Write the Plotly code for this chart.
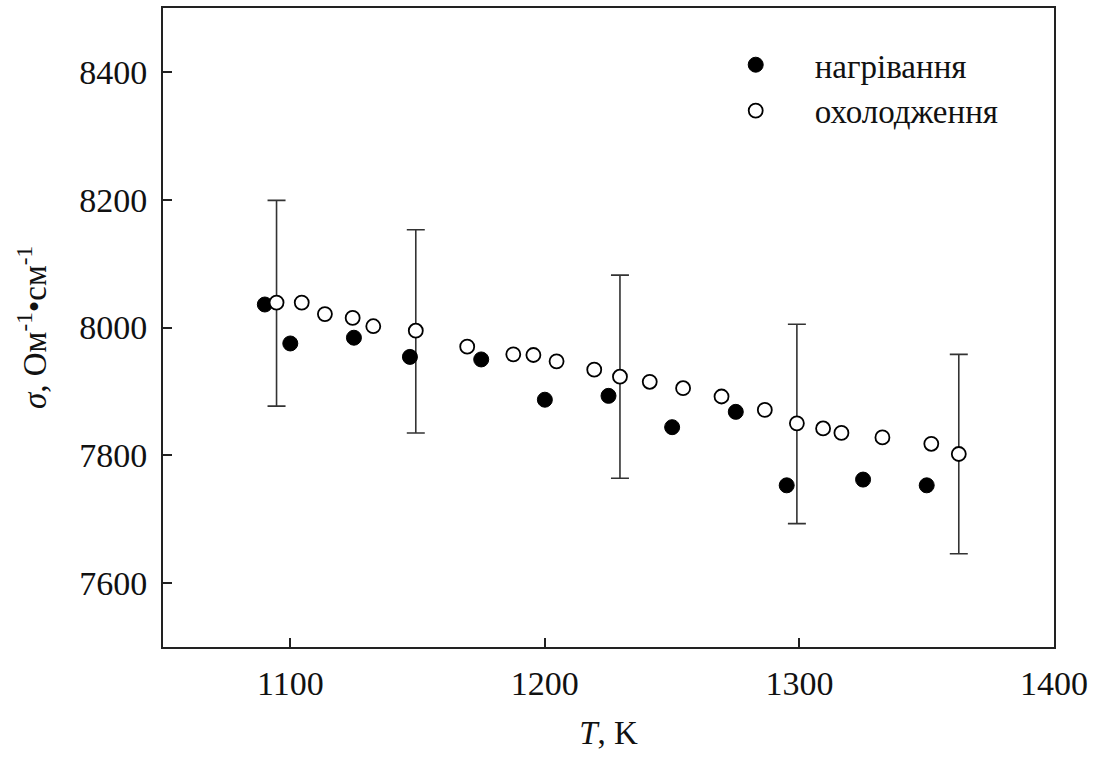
import plotly.graph_objects as go

# heating (filled circles)
heat_T = [1090, 1100, 1125, 1147, 1175, 1200, 1225, 1250, 1275, 1295, 1325, 1350]
heat_s = [8036, 7975, 7984, 7954, 7950, 7887, 7893, 7844, 7868, 7753, 7762, 7753]

# cooling (open circles)
cool_T = [1094.6, 1104.5, 1113.6, 1124.5, 1132.6, 1149.3, 1169.5, 1187.6, 1195.5, 1204.6,
          1219.4, 1229.5, 1241.2, 1254.3, 1269.4, 1286.4, 1299.0, 1309.3, 1316.5, 1332.6,
          1351.8, 1362.6]
cool_s = [8039, 8039, 8021, 8015, 8002, 7995, 7970, 7958, 7957, 7947,
          7934, 7923, 7915, 7905, 7892, 7871, 7850, 7842, 7835, 7828,
          7818, 7802]

# error bars (on selected cooling points)
err_T = [1094.6, 1149.3, 1229.5, 1299.0, 1362.6]
err_s = [8039, 7995, 7923, 7850, 7802]
err_plus = [160, 158, 159, 155, 156]
err_minus = [162, 160, 159, 157, 156]

x_ticks = [1100, 1200, 1300, 1400]
y_ticks = [7600, 7800, 8000, 8200, 8400]

FONT = "Liberation Serif"
AX = "#222222"

fig = go.Figure()

fig.add_trace(go.Scatter(
    x=err_T, y=err_s, mode="markers", showlegend=False, hoverinfo="skip",
    marker=dict(size=1, color="rgba(0,0,0,0)"),
    error_y=dict(type="data", symmetric=False, array=err_plus, arrayminus=err_minus,
                 color="#333333", thickness=1.6, width=9),
))

fig.add_trace(go.Scatter(
    x=heat_T, y=heat_s, mode="markers", name="нагрівання",
    marker=dict(symbol="circle", size=15, color="black", line=dict(color="black", width=1)),
))

fig.add_trace(go.Scatter(
    x=cool_T, y=cool_s, mode="markers", name="охолодження",
    marker=dict(symbol="circle", size=14, color="white", line=dict(color="black", width=1.8)),
))

fig.update_layout(
    width=1097, height=769,
    margin=dict(l=163, r=43, t=6, b=122),
    paper_bgcolor="white", plot_bgcolor="white",
    font=dict(family=FONT, size=34, color="#111111"),
    showlegend=True,
    legend=dict(x=0.599, y=0.955, xanchor="left", yanchor="top",
                bgcolor="rgba(0,0,0,0)", itemwidth=108,
                font=dict(family=FONT, size=33)),
    xaxis=dict(
        range=[1050, 1400], tickvals=x_ticks, ticktext=[str(v) for v in x_ticks],
        ticks="inside", ticklen=9, tickwidth=1.6, tickcolor=AX,
        showline=True, linecolor=AX, linewidth=2, mirror=True,
        showgrid=False, zeroline=False, ticklabelstandoff=5,
        tickfont=dict(family=FONT, size=34),
        title=dict(text="<i>T</i>, K", standoff=20, font=dict(family=FONT, size=33)),
    ),
    yaxis=dict(
        range=[7500, 8500], tickvals=y_ticks, ticktext=[str(v) for v in y_ticks],
        ticks="inside", ticklen=9, tickwidth=1.6, tickcolor=AX,
        showline=True, linecolor=AX, linewidth=2, mirror=True,
        showgrid=False, zeroline=False, ticklabelstandoff=7,
        tickfont=dict(family=FONT, size=34),
        title=dict(text="<i>σ</i>, Ом<sup>-1</sup>•см<sup>-1</sup>", standoff=23,
                   font=dict(family=FONT, size=33)),
    ),
)

fig.write_html("out.html")
